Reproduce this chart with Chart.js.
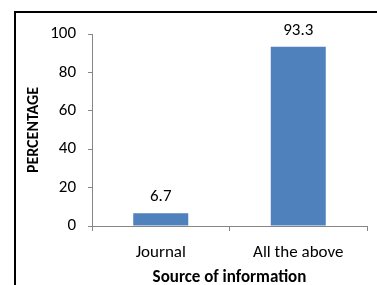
<!DOCTYPE html>
<html><head><meta charset="utf-8">
<script src="https://cdn.jsdelivr.net/npm/chart.js@4"></script>
<style>
html,body{margin:0;padding:0;background:#fff;}
#wrap{position:relative;width:377px;height:285px;}
#frame{position:absolute;left:14px;top:11px;right:-5px;bottom:-5px;border-left:2px solid #000;border-top:2px solid #000;pointer-events:none;}
canvas{position:absolute;left:0;top:0;}
</style></head>
<body>
<div id="wrap"><canvas id="c" width="377" height="285"></canvas><div id="frame"></div></div>
<script>
const categories = ["Journal", "All the above"];
const percentages = [6.7, 93.3];
const yTicks = [0, 20, 40, 60, 80, 100];
const FONT = "Carlito, Calibri, Lato, sans-serif";

const valueLabels = {
  id: 'valueLabels',
  afterDatasetsDraw(chart) {
    const ctx = chart.ctx;
    const meta = chart.getDatasetMeta(0);
    ctx.save();
    ctx.font = "17px " + FONT;
    ctx.fillStyle = "#000";
    ctx.textAlign = "center";
    ctx.textBaseline = "alphabetic";
    meta.data.forEach((bar, i) => {
      ctx.fillText(String(percentages[i]), bar.x, bar.y - 12);
    });
    ctx.restore();
  }
};

new Chart(document.getElementById('c'), {
  type: 'bar',
  data: {
    labels: categories,
    datasets: [{
      data: percentages,
      backgroundColor: '#4F81BD',
      borderWidth: 0,
      categoryPercentage: 0.8,
      barPercentage: 0.5
    }]
  },
  options: {
    responsive: false,
    animation: false,
    devicePixelRatio: 1,
    layout: { padding: { left: 0, right: 10, top: 34, bottom: 0 } },
    plugins: { legend: { display: false }, tooltip: { enabled: false } },
    scales: {
      x: {
        grid: { drawOnChartArea: false, color: '#868686', tickLength: 5, offset: true },
        border: { color: '#868686', width: 1 },
        ticks: { color: '#000', font: { family: FONT, size: 17 }, padding: 12 },
        title: { display: true, text: 'Source of information', color: '#000',
                 font: { family: FONT, size: 17, weight: 'bold' }, padding: { top: 0, bottom: -3 } },
        afterFit(s) { s.height = 59; }
      },
      y: {
        min: 0, max: 100,
        afterBuildTicks(s) { s.ticks = yTicks.map(v => ({ value: v })); },
        grid: { drawOnChartArea: false, color: '#868686', tickLength: 4 },
        border: { color: '#868686', width: 1 },
        ticks: { color: '#000', font: { family: FONT, size: 17 }, padding: 12 },
        title: { display: true, text: 'PERCENTAGE', color: '#000',
                 font: { family: FONT, size: 16, weight: 'bold' }, padding: { top: 24, bottom: 0 } },
        afterFit(s) { s.width = 92; }
      }
    }
  },
  plugins: [valueLabels]
});
</script>
</body></html>
